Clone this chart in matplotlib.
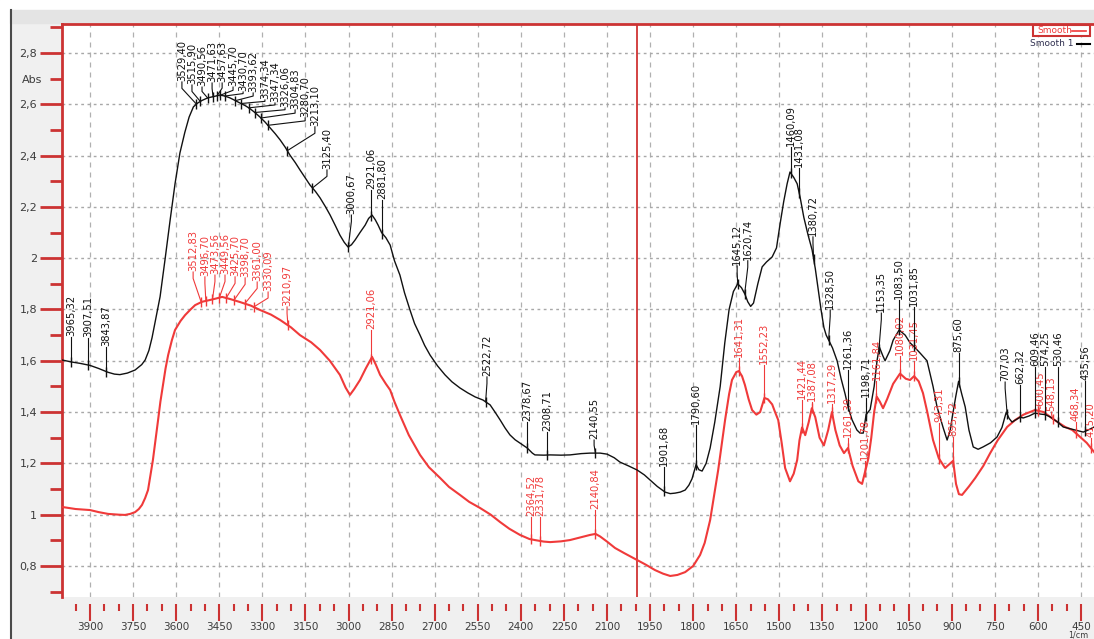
import numpy as np
import matplotlib
matplotlib.use('Agg')
import matplotlib.pyplot as plt
from matplotlib.ticker import MultipleLocator, FuncFormatter
from matplotlib.patches import Rectangle
from matplotlib.lines import Line2D

# spectrum "Smooth 1" (black): wavenumber 1/cm, absorbance
black_wn = [3997, 3963, 3935, 3900, 3870, 3837, 3815, 3796, 3770, 3743, 3720, 3708, 3695, 3684, 3670,
            3656, 3639, 3621, 3604, 3587, 3570, 3555, 3540, 3525, 3510, 3490, 3470, 3447, 3430, 3413,
            3395, 3378, 3360, 3343, 3325, 3308, 3290, 3273, 3255, 3238, 3220, 3204, 3185, 3169, 3150,
            3134, 3115, 3099, 3080, 3064, 3045, 3030, 3015, 3002, 2990, 2977, 2960, 2942, 2930, 2918,
            2907, 2897, 2885, 2870, 2855, 2840, 2821, 2805, 2786, 2770, 2751, 2735, 2716, 2690, 2664,
            2640, 2612, 2585, 2559, 2532, 2507, 2490, 2472, 2455, 2438, 2420, 2403, 2378, 2360, 2351,
            2320, 2298, 2260, 2229, 2190, 2159, 2124, 2100, 2075, 2055, 2025, 1995, 1970, 1950, 1925,
            1898, 1880, 1863, 1845, 1828, 1815, 1804, 1790, 1780, 1769, 1755, 1741, 1725, 1706, 1690,
            1675, 1660, 1645, 1632, 1620, 1610, 1600, 1590, 1575, 1560, 1545, 1525, 1510, 1497, 1485,
            1473, 1463, 1450, 1438, 1428, 1415, 1400, 1386, 1375, 1365, 1355, 1345, 1337, 1328, 1315,
            1299, 1285, 1271, 1261, 1247, 1230, 1219, 1208, 1198, 1184, 1170, 1160, 1152, 1140, 1132,
            1115, 1104, 1083, 1062, 1045, 1031, 1010, 986, 965, 951, 930, 916, 905, 898, 886,
            876, 865, 853, 840, 825, 808, 791, 765, 742, 725, 710, 700, 690, 662, 651,
            630, 610, 590, 574, 557, 530, 512, 470, 442, 425, 404]
black_abs = [1.603, 1.595, 1.590, 1.582, 1.570, 1.555, 1.548, 1.546, 1.552, 1.564, 1.585, 1.603, 1.640, 1.690, 1.770,
             1.850, 1.993, 2.149, 2.290, 2.410, 2.490, 2.550, 2.590, 2.605, 2.615, 2.625, 2.630, 2.636, 2.632, 2.625,
             2.615, 2.605, 2.595, 2.583, 2.567, 2.550, 2.530, 2.508, 2.485, 2.461, 2.432, 2.402, 2.372, 2.344, 2.312,
             2.285, 2.260, 2.235, 2.200, 2.168, 2.125, 2.090, 2.062, 2.044, 2.052, 2.071, 2.100, 2.129, 2.155, 2.168,
             2.150, 2.129, 2.100, 2.080, 2.051, 1.990, 1.934, 1.865, 1.798, 1.745, 1.700, 1.660, 1.622, 1.580, 1.545,
             1.518, 1.494, 1.475, 1.459, 1.447, 1.428, 1.400, 1.369, 1.338, 1.311, 1.292, 1.279, 1.260, 1.240, 1.233,
             1.232, 1.233, 1.232, 1.233, 1.238, 1.240, 1.240, 1.236, 1.222, 1.205, 1.190, 1.174, 1.155, 1.135, 1.110,
             1.088, 1.082, 1.084, 1.088, 1.096, 1.115, 1.140, 1.195, 1.175, 1.170, 1.200, 1.260, 1.360, 1.500, 1.670,
             1.800, 1.870, 1.900, 1.885, 1.860, 1.830, 1.812, 1.825, 1.900, 1.966, 1.985, 2.005, 2.040, 2.137, 2.220,
             2.290, 2.336, 2.315, 2.290, 2.239, 2.160, 2.090, 2.032, 1.960, 1.880, 1.800, 1.730, 1.700, 1.680, 1.650,
             1.600, 1.530, 1.470, 1.420, 1.370, 1.330, 1.318, 1.318, 1.390, 1.410, 1.500, 1.600, 1.654, 1.620, 1.600,
             1.640, 1.680, 1.720, 1.700, 1.670, 1.655, 1.630, 1.600, 1.500, 1.420, 1.340, 1.291, 1.330, 1.381, 1.460,
             1.520, 1.470, 1.420, 1.330, 1.264, 1.255, 1.264, 1.280, 1.303, 1.340, 1.400, 1.375, 1.361, 1.380, 1.377,
             1.385, 1.396, 1.392, 1.390, 1.381, 1.360, 1.342, 1.330, 1.322, 1.330, 1.342]

# spectrum "Smooth" (red)
red_wn = [3997, 3950, 3900, 3870, 3837, 3800, 3778, 3760, 3743, 3730, 3719, 3708, 3698, 3690, 3681,
          3672, 3663, 3655, 3646, 3637, 3628, 3615, 3604, 3585, 3569, 3550, 3534, 3510, 3482, 3460,
          3440, 3410, 3378, 3340, 3308, 3270, 3238, 3200, 3169, 3130, 3099, 3065, 3030, 3010, 2995,
          2980, 2960, 2940, 2918, 2905, 2890, 2870, 2855, 2840, 2821, 2790, 2751, 2720, 2681, 2650,
          2612, 2580, 2542, 2505, 2472, 2440, 2403, 2370, 2351, 2320, 2298, 2260, 2229, 2190, 2159,
          2140, 2124, 2100, 2072, 2040, 1995, 1965, 1933, 1905, 1880, 1855, 1828, 1800, 1776, 1760,
          1741, 1728, 1713, 1700, 1689, 1675, 1665, 1650, 1641, 1630, 1620, 1607, 1595, 1580, 1567,
          1552, 1540, 1525, 1515, 1504, 1492, 1480, 1463, 1450, 1438, 1430, 1421, 1410, 1398, 1387,
          1375, 1360, 1345, 1330, 1317, 1305, 1290, 1275, 1261, 1245, 1225, 1212, 1201, 1190, 1180,
          1170, 1161, 1150, 1139, 1125, 1104, 1080, 1060, 1045, 1031, 1015, 1000, 985, 965, 945,
          923, 905, 895, 885, 875, 864, 840, 818, 790, 766, 740, 707, 679, 650, 610,
          580, 557, 530, 505, 480, 453, 430, 404]
red_abs = [1.030, 1.022, 1.018, 1.010, 1.003, 1.000, 0.999, 1.003, 1.010, 1.022, 1.038, 1.065, 1.096, 1.150, 1.213,
           1.290, 1.369, 1.440, 1.506, 1.570, 1.622, 1.680, 1.720, 1.755, 1.778, 1.800, 1.817, 1.830, 1.837, 1.843,
           1.849, 1.840, 1.829, 1.815, 1.798, 1.780, 1.759, 1.730, 1.700, 1.672, 1.642, 1.600, 1.545, 1.495, 1.467,
           1.490, 1.525, 1.570, 1.615, 1.585, 1.545, 1.510, 1.486, 1.440, 1.389, 1.310, 1.233, 1.185, 1.143, 1.108,
           1.077, 1.050, 1.026, 1.000, 0.971, 0.945, 0.921, 0.905, 0.901, 0.895, 0.893, 0.896, 0.901, 0.912, 0.921,
           0.925, 0.915, 0.895, 0.870, 0.850, 0.823, 0.805, 0.784, 0.770, 0.761, 0.765, 0.776, 0.800, 0.843, 0.890,
           0.979, 1.070, 1.174, 1.280, 1.369, 1.470, 1.525, 1.556, 1.560, 1.540, 1.506, 1.450, 1.408, 1.390, 1.400,
           1.455, 1.450, 1.430, 1.400, 1.369, 1.280, 1.182, 1.130, 1.160, 1.213, 1.290, 1.340, 1.310, 1.360, 1.415,
           1.380, 1.300, 1.270, 1.330, 1.400, 1.330, 1.270, 1.240, 1.260, 1.190, 1.130, 1.120, 1.170, 1.220, 1.300,
           1.400, 1.460, 1.440, 1.415, 1.450, 1.510, 1.550, 1.530, 1.525, 1.540, 1.520, 1.474, 1.400, 1.291, 1.220,
           1.182, 1.200, 1.210, 1.120, 1.080, 1.077, 1.110, 1.143, 1.190, 1.240, 1.290, 1.342, 1.369, 1.390, 1.408,
           1.400, 1.381, 1.360, 1.342, 1.330, 1.303, 1.280, 1.244]

# picked peaks
black_peaks = [3965.32, 3907.51, 3843.87,
               3529.40, 3515.90, 3490.56, 3471.63, 3457.63, 3445.70, 3430.70, 3393.62, 3374.34,
               3347.34, 3326.06, 3304.83, 3280.70, 3213.10, 3125.40,
               3000.67, 2921.06, 2881.80, 2522.72, 2378.67, 2308.71, 2140.55, 1901.68, 1790.60,
               1645.12, 1620.74, 1460.09, 1431.08, 1380.72, 1328.50, 1261.36, 1198.71, 1153.35,
               1083.50, 1031.85, 875.60,
               707.03, 662.32, 609.46, 574.25, 530.46, 435.56]
red_peaks = [3512.83, 3496.70, 3473.56, 3449.56, 3425.70, 3398.70, 3361.00, 3330.09, 3210.97,
             2921.06, 2364.52, 2331.78, 2140.84,
             1641.31, 1552.23, 1421.44, 1387.08, 1317.29, 1261.39, 1201.78,
             1161.84, 1080.02, 1031.45, 943.31, 895.72,
             600.45, 548.13, 468.34, 415.20]

# label placement: x of the text (1/cm) and absorbance of its foot
black_lab_x = [3965.32, 3907.51, 3843.87,
               3580, 3545, 3510, 3475, 3440, 3402, 3367, 3332, 3291, 3256, 3221, 3186, 3151, 3117, 3075,
               2990, 2921.06, 2881.80, 2518, 2378.67, 2308.71, 2145, 1901.68, 1790.60,
               1647, 1610, 1460.09, 1431.08, 1383, 1323, 1261.36, 1198.71, 1145, 1083.50, 1031.85, 875.60,
               714, 662.32, 609.46, 574.25, 530.46, 435.56]
black_lab_y = [1.693, 1.689, 1.654,
               2.687, 2.675, 2.667, 2.683, 2.683, 2.667, 2.648, 2.644, 2.617, 2.605, 2.586, 2.578, 2.547, 2.512, 2.344,
               2.168, 2.266, 2.227, 1.537, 1.361, 1.322, 1.291, 1.186, 1.350,
               1.97, 1.99, 2.433, 2.352, 2.083, 1.798, 1.564, 1.455, 1.786, 1.837, 1.81, 1.630,
               1.517, 1.506, 1.575, 1.575, 1.575, 1.52]
red_lab_x = [3541, 3500, 3465, 3430, 3395, 3360, 3318, 3280, 3214,
             2921.06, 2364.52, 2331.78, 2140.84,
             1641.31, 1552.23, 1421.44, 1387.08, 1317.29, 1261.39, 1201.78,
             1161.84, 1080.02, 1031.45, 943.31, 895.72,
             592, 552, 468.34, 415.20]
red_lab_y = [1.946, 1.927, 1.934, 1.934, 1.927, 1.923, 1.907, 1.868, 1.810,
             1.720, 0.991, 0.991, 1.018,
             1.611, 1.584, 1.447, 1.44, 1.43, 1.30, 1.21,
             1.52, 1.62, 1.60, 1.357, 1.303,
             1.42, 1.40, 1.36, 1.30]

cursor_wn = 1995

W, H = 1094, 639
AX_RED = '#cc3333'
RED = '#f03a3a'
TXT = '#3c3c3c'


def fx(px):
    return px / W


def fy(py):
    return 1 - py / H


fig = plt.figure(figsize=(W / 100, H / 100), dpi=100, facecolor='#f0f0f0')

# window frame
fig.add_artist(Rectangle((0, fy(10)), 1, 10 / H, transform=fig.transFigure, color='white', zorder=0))
fig.add_artist(Rectangle((0, 0), fx(10), 1, transform=fig.transFigure, color='white', zorder=0))
fig.add_artist(Rectangle((fx(10), fy(23)), 1, 13 / H, transform=fig.transFigure, color='#e4e4e4', zorder=0))
fig.add_artist(Line2D([fx(10.5), fx(10.5)], [0, fy(10)], transform=fig.transFigure, color='#4a4a4a', lw=1.5))

ax = fig.add_axes([fx(62), 42 / H, (W - 62) / W, 573 / H])
ax.set_facecolor('white')

ax.plot(red_wn, red_abs, color=RED, lw=1.5, zorder=3)
ax.plot(black_wn, black_abs, color='#111111', lw=1.0, zorder=4)
ax.axvline(cursor_wn, color='#cc2222', lw=1.2, zorder=2.5)


def draw_peaks(wn, ab, peaks, lab_x, lab_y, color, z):
    wn_inc = np.array(wn, dtype=float)[::-1]
    ab_inc = np.array(ab, dtype=float)[::-1]
    py = np.interp(peaks, wn_inc, ab_inc)
    ax.plot(peaks, py, ls='none', marker='|', ms=7, mew=1.0, color=color, zorder=z)
    for p, y, lx, ly in zip(peaks, py, lab_x, lab_y):
        drop = min(0.025, (ly - y) * 0.4)
        ax.plot([lx, lx, p], [ly, ly - drop, y], color=color, lw=0.8, zorder=z)
        ax.text(lx, ly + 0.004, f'{p:.2f}'.replace('.', ','), rotation=90,
                ha='center', va='bottom', fontsize=7.2, color=color, zorder=z + 1)


draw_peaks(red_wn, red_abs, red_peaks, red_lab_x, red_lab_y, RED, 5)
draw_peaks(black_wn, black_abs, black_peaks, black_lab_x, black_lab_y, '#111111', 6)

ax.set_xlim(3997.5, 404.6)
ax.set_ylim(0.679, 2.913)

ax.xaxis.set_major_locator(MultipleLocator(150))
ax.xaxis.set_minor_locator(MultipleLocator(50))
ax.yaxis.set_major_locator(MultipleLocator(0.2))
ax.yaxis.set_minor_locator(MultipleLocator(0.1))
ax.xaxis.set_major_formatter(FuncFormatter(lambda v, p: f'{v:.0f}'))
ax.yaxis.set_major_formatter(FuncFormatter(lambda v, p: f'{v:g}'.replace('.', ',')))

ax.set_axisbelow(True)
ax.xaxis.grid(True, which='major', ls=(0, (4, 4)), color='#b0b0b0', lw=0.9)
ax.yaxis.grid(True, which='major', ls=(0, (2, 2.5)), color='#a8a8a8', lw=1.0)

ax.spines['right'].set_visible(False)
ax.spines['left'].set_color(AX_RED)
ax.spines['left'].set_linewidth(2)
ax.spines['top'].set_color(AX_RED)
ax.spines['top'].set_linewidth(2)
ax.spines['bottom'].set_position(('outward', 5))
ax.spines['bottom'].set_color('none')

ax.tick_params(axis='y', which='major', direction='out', length=16, width=2, color=AX_RED,
               labelsize=8, labelcolor=TXT, pad=2)
ax.tick_params(axis='y', which='minor', direction='out', length=9, width=2, color=AX_RED)
ax.tick_params(axis='x', which='major', direction='out', length=12, width=1.5, color=AX_RED,
               labelsize=7.5, labelcolor=TXT, pad=1)
ax.tick_params(axis='x', which='minor', direction='out', length=5, width=1.5, color=AX_RED)

fig.text(fx(32), fy(80), 'Abs', ha='center', va='center', fontsize=8, color=TXT)
fig.text(fx(1068), fy(639), '1/cm', ha='left', va='bottom', fontsize=5.8, color=TXT)

# legend
fig.add_artist(Rectangle((fx(1033), fy(36)), 57 / W, 11 / H, transform=fig.transFigure,
                         facecolor='white', edgecolor=AX_RED, lw=1.5, zorder=10))
fig.text(fx(1037), fy(30.5), 'Smooth', color=RED, fontsize=6.5, va='center', zorder=11)
fig.add_artist(Line2D([fx(1072), fx(1086)], [fy(30.5), fy(30.5)], transform=fig.transFigure,
                      color=RED, lw=1.2, zorder=11))
fig.text(fx(1030), fy(43), 'Smooth 1', color='#303050', fontsize=6.5, va='center')
fig.add_artist(Line2D([fx(1077), fx(1090)], [fy(44), fy(44)], transform=fig.transFigure,
                      color='black', lw=1.5))

fig.savefig('out.png', dpi=100, facecolor=fig.get_facecolor())
